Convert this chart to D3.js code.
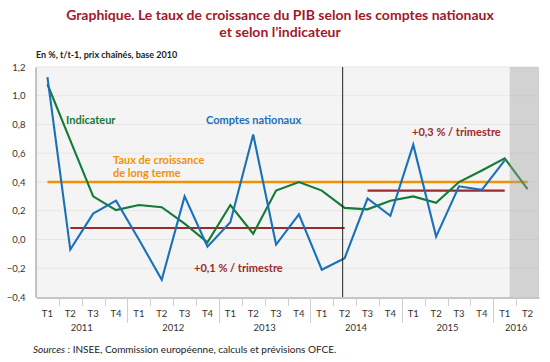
<!DOCTYPE html>
<html>
<head>
<meta charset="utf-8">
<script src="https://cdn.jsdelivr.net/npm/d3@7"></script>
<style>
  body { margin: 0; background: #fff; }
  text { font-family: Lato, "Open Sans", sans-serif; }
</style>
</head>
<body>
<svg id="chart" width="550" height="362"></svg>
<script>
// quarters, 2011 T1 .. 2016 T2
const quarters = ['2011-T1','2011-T2','2011-T3','2011-T4','2012-T1','2012-T2','2012-T3','2012-T4',
  '2013-T1','2013-T2','2013-T3','2013-T4','2014-T1','2014-T2','2014-T3','2014-T4',
  '2015-T1','2015-T2','2015-T3','2015-T4','2016-T1','2016-T2']
const years = ['2011','2012','2013','2014','2015','2016']

// Comptes nationaux (ends 2016 T1)
const comptes = [1.13, -0.07, 0.18, 0.27, 0.0, -0.28, 0.30, -0.05,
  0.12, 0.73, -0.035, 0.175, -0.21, -0.13, 0.285, 0.165,
  0.66, 0.02, 0.37, 0.345, 0.55]
// Indicateur
const indicateur = [1.08, 0.69, 0.30, 0.205, 0.24, 0.225, 0.11, -0.02,
  0.24, 0.04, 0.34, 0.40, 0.34, 0.22, 0.21, 0.27,
  0.30, 0.255, 0.40, 0.48, 0.565, 0.35]

const longTerme = {from: '2011-T1', to: '2016-T2', value: 0.40}
const rythmes = [
  {from: '2011-T2', to: '2014-T2', value: 0.08, label: '+0,1 % / trimestre'},
  {from: '2014-T3', to: '2016-T1', value: 0.34, label: '+0,3 % / trimestre'}
]
const yTicks = [-0.4, -0.2, 0, 0.2, 0.4, 0.6, 0.8, 1.0, 1.2]

const svg = d3.select('#chart')
const plotL = 36, plotR = 539, plotT = 67, plotB = 297

const x = d3.scaleBand().domain(quarters).range([plotL, plotR])
const xc = d => x(d) + x.bandwidth() / 2
const y = d3.scaleLinear().domain([-0.4, 1.2]).range([plotB, plotT])
const fr = d3.formatLocale({decimal: ',', thousands: ' ', grouping: [3], currency: ['', ' €']})

// title
svg.append('text')
  .attr('x', 280).attr('y', 19.5)
  .attr('text-anchor', 'middle')
  .style('font-size', '14px').style('font-weight', 'bold').style('fill', '#a3172b')
  .text('Graphique. Le taux de croissance du PIB selon les comptes nationaux')
svg.append('text')
  .attr('x', 280).attr('y', 36.5)
  .attr('text-anchor', 'middle')
  .style('font-size', '14px').style('font-weight', 'bold').style('fill', '#a3172b')
  .text('et selon l\u2019indicateur')

svg.append('text')
  .attr('x', 36).attr('y', 58)
  .style('font-size', '9px').style('font-weight', 'bold').style('fill', '#222')
  .text('En %, t/t-1, prix chaînés, base 2010')

// plot background and grid
svg.append('rect')
  .attr('x', plotL).attr('y', plotT)
  .attr('width', plotR - plotL).attr('height', plotB - plotT)
  .style('fill', '#f4f4f4')

svg.append('g').selectAll('line')
  .data(yTicks.filter(d => d > -0.4))
  .join('line')
  .attr('x1', plotL).attr('x2', plotR)
  .attr('y1', d => y(d)).attr('y2', d => y(d))
  .style('stroke', '#e6e6e6')

// y axis
const yAxis = svg.append('g')
  .attr('transform', `translate(${plotL - 0.5},0)`)
  .call(d3.axisLeft(y).tickValues(yTicks).tickSize(0).tickPadding(10).tickFormat(fr.format('.1f')))
yAxis.select('.domain').style('stroke', '#8c8c8c')
yAxis.selectAll('text').style('font-size', '9.5px').style('fill', '#333')
  .style('font-family', 'Lato, sans-serif')

// x axis: quarter labels
const xAxis = svg.append('g')
  .attr('transform', `translate(0,${plotB + 0.5})`)
  .call(d3.axisBottom(x).tickSize(0).tickPadding(13).tickFormat(d => d.split('-')[1]))
xAxis.select('.domain').style('stroke', '#8c8c8c')
xAxis.selectAll('text').style('font-size', '9.5px').style('fill', '#333')
  .style('font-family', 'Lato, sans-serif')

// separators between quarters / years
svg.append('g').selectAll('line')
  .data(quarters.slice(1))
  .join('line')
  .attr('x1', d => Math.round(x(d)) + 0.5).attr('x2', d => Math.round(x(d)) + 0.5)
  .attr('y1', plotB)
  .attr('y2', d => d.endsWith('T1') ? plotB + 26 : plotB + 9)
  .style('stroke', '#cfcfcf')

svg.append('g').selectAll('text')
  .data(years)
  .join('text')
  .attr('x', yr => {
    const qs = quarters.filter(q => q.startsWith(yr))
    return (x(qs[0]) + x(qs[qs.length - 1]) + x.bandwidth()) / 2
  })
  .attr('y', 331)
  .attr('text-anchor', 'middle')
  .style('font-size', '9.5px').style('fill', '#333')
  .text(d => d)

const line = d3.line().x((d, i) => xc(quarters[i])).y(d => y(d))

// long term rate
svg.append('line')
  .attr('x1', xc(longTerme.from)).attr('x2', xc(longTerme.to))
  .attr('y1', y(longTerme.value)).attr('y2', y(longTerme.value))
  .style('stroke', '#f39200').style('stroke-width', 2.5)

// average paces
svg.append('g').selectAll('line')
  .data(rythmes)
  .join('line')
  .attr('x1', d => xc(d.from)).attr('x2', d => xc(d.to))
  .attr('y1', d => y(d.value)).attr('y2', d => y(d.value))
  .style('stroke', '#9c2a2a').style('stroke-width', 2.2)

svg.append('path')
  .datum(indicateur)
  .attr('d', line)
  .style('fill', 'none').style('stroke', '#137a37').style('stroke-width', 2.1)

svg.append('path')
  .datum(comptes)
  .attr('d', line)
  .style('fill', 'none').style('stroke', '#1a70b9').style('stroke-width', 2.1)

// forecast band
const bandStart = xc('2016-T1') + 5
svg.append('rect')
  .attr('x', bandStart).attr('y', plotT)
  .attr('width', plotR - bandStart).attr('height', plotB - plotT)
  .style('fill', '#a1a1a1').style('opacity', 0.4)

// vertical separator
const vx = xc('2014-T2') - 2
svg.append('line')
  .attr('x1', vx).attr('x2', vx)
  .attr('y1', plotT).attr('y2', plotB)
  .style('stroke', '#222').style('stroke-width', 1)

// annotations
const note = (tx, ty, txt, color) => svg.append('text')
  .attr('x', tx).attr('y', ty)
  .style('font-size', '11px').style('font-weight', 'bold').style('fill', color)
  .text(txt)
note(66, 124, 'Indicateur', '#137a37')
note(206, 124, 'Comptes nationaux', '#1a70b9')
note(113, 164, 'Taux de croissance', '#f39200')
note(113, 177, 'de long terme', '#f39200')
note(194, 272, rythmes[0].label, '#9c2a2a')
note(412, 136, rythmes[1].label, '#9c2a2a')

// sources
const src = svg.append('text')
  .attr('x', 33).attr('y', 353)
  .style('font-size', '10px').style('fill', '#222')
src.append('tspan').style('font-style', 'italic').text('Sources')
src.append('tspan').text(' : INSEE, Commission européenne, calculs et prévisions OFCE.')
</script>
</body>
</html>
